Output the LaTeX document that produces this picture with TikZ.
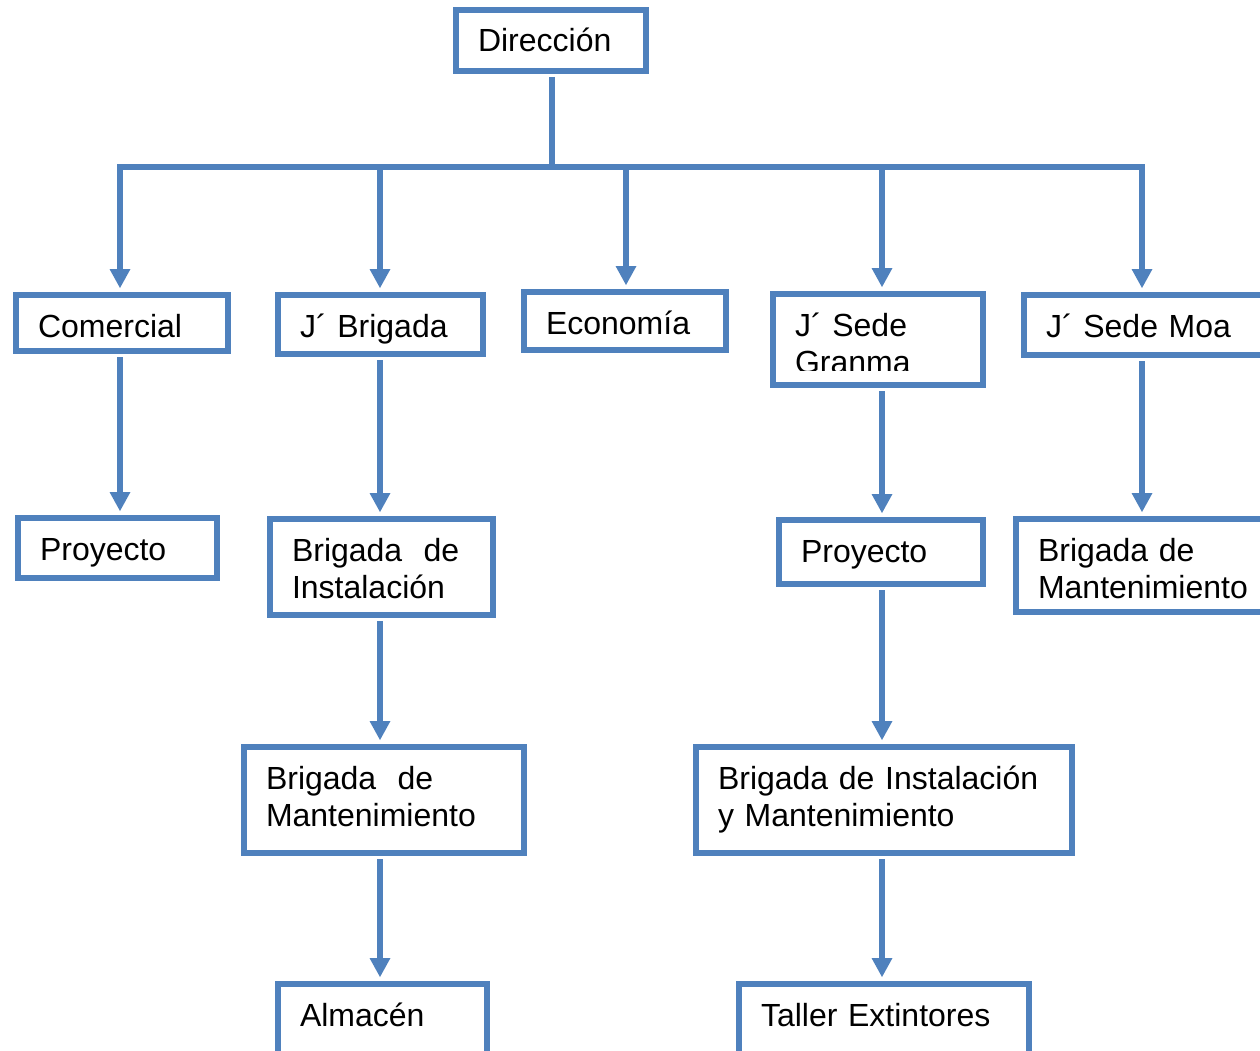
\documentclass[tikz,border=0pt]{standalone}
\usepackage{fontspec}
\setmainfont{Liberation Sans}
\usepackage{tikz}
\usetikzlibrary{arrows.meta,positioning}
\definecolor{orgblue}{RGB}{79,129,189}
\tikzstyle{orgbox} = [draw=orgblue, line width=6pt, fill=white, rectangle,
    inner xsep=22pt, inner ysep=0pt, outer sep=0pt, align=left,
    text height=42pt, font=\fontsize{32}{37}\selectfont]
\tikzstyle{orgline} = [draw=orgblue, line width=6.5pt]
\tikzstyle{orgarrow} = [orgline, shorten >=7pt,
    -{Triangle[width=21pt,length=19pt,line width=0pt]}]
\tikzstyle{orgdown} = [orgarrow, shorten <=6pt]

\begin{document}
\begin{tikzpicture}[x=1pt, y=-1pt]
  \path[use as bounding box] (0,0) rectangle (1260,1051);
  \clip (0,0) rectangle (1260,1051);
  % Place nodes
  \node [orgbox, minimum width=190pt, minimum height=61pt, text width=146pt, text depth=19pt] (dir) at (551,40.5)
  {Dirección};
  \node [orgbox, minimum width=212pt, minimum height=56pt, text width=168pt, text depth=14pt] (comercial) at (122,323)
  {Comercial};
  \node [orgbox, minimum width=205pt, minimum height=59pt, text width=161pt, text depth=17pt] (jbrig) at (380.5,324.5)
  {J´ Brigada};
  \node [orgbox, minimum width=202pt, minimum height=58pt, text width=158pt, text depth=16pt] (econ) at (625,321)
  {Economía};
  \node [orgbox, minimum width=210pt, minimum height=91pt, text width=166pt, text depth=49pt] (granma) at (878,339.5)
  {J´ Sede\\Granma};
  \node [orgbox, minimum width=256pt, minimum height=60pt, text width=212pt, text depth=18pt] (moa) at (1152,325)
  {J´ Sede Moa};
  \node [orgbox, minimum width=199pt, minimum height=60pt, text width=155pt, text depth=18pt] (proyL) at (117.5,548)
  {Proyecto};
  \node [orgbox, minimum width=223pt, minimum height=96pt, text width=179pt, text depth=54pt] (bdi) at (381.5,567)
  {Brigada~ de\\Instalación};
  \node [orgbox, minimum width=204pt, minimum height=64pt, text width=160pt, text depth=22pt] (proyR) at (881,552)
  {Proyecto};
  \node [orgbox, minimum width=264pt, minimum height=93pt, text width=220pt, text depth=51pt] (bdmR) at (1148,565.5)
  {Brigada de\\Mantenimiento};
  \node [orgbox, minimum width=280pt, minimum height=106pt, text width=236pt, text depth=64pt] (bdm) at (384,800)
  {Brigada~ de\\Mantenimiento};
  \node [orgbox, minimum width=376pt, minimum height=106pt, text width=332pt, text depth=64pt] (biym) at (884,800)
  {Brigada de Instalación\\y Mantenimiento};
  \node [orgbox, minimum width=209pt, minimum height=76pt, text width=165pt, text depth=34pt] (almacen) at (382.5,1022)
  {Almacén};
  \node [orgbox, minimum width=290pt, minimum height=76pt, text width=246pt, text depth=34pt] (taller) at (884,1022)
  {Taller Extintores};
  % text of J´ Sede Granma is cut at the bottom
  \fill [white] ([shift={(3pt,3pt)}]granma.south west) rectangle ([shift={(-3pt,14pt)}]granma.south east);

  % Draw edges
  \coordinate (bus) at (552,167);
  \coordinate (b1) at (120,167);
  \coordinate (b2) at (380,167);
  \coordinate (b3) at (626,167);
  \coordinate (b4) at (882,167);
  \coordinate (b5) at (1142,167);
  \draw [orgline, shorten <=6pt] (dir.south -| bus) -- (bus);
  \draw [orgarrow] (bus) -- (b1) -- (b1 |- comercial.north);
  \draw [orgarrow] (bus) -- (b5) -- (b5 |- moa.north);
  \draw [orgarrow] (b2) -- (b2 |- jbrig.north);
  \draw [orgarrow] (b3) -- (b3 |- econ.north);
  \draw [orgarrow] (b4) -- (b4 |- granma.north);
  \draw [orgdown] (b1 |- comercial.south) -- (b1 |- proyL.north);
  \draw [orgdown] (b2 |- jbrig.south) -- (b2 |- bdi.north);
  \draw [orgdown] (b2 |- bdi.south) -- (b2 |- bdm.north);
  \draw [orgdown] (b2 |- bdm.south) -- (b2 |- almacen.north);
  \draw [orgdown] (b4 |- granma.south) -- (b4 |- proyR.north);
  \draw [orgdown] (b4 |- proyR.south) -- (b4 |- biym.north);
  \draw [orgdown] (b4 |- biym.south) -- (b4 |- taller.north);
  \draw [orgdown] (b5 |- moa.south) -- (b5 |- bdmR.north);
\end{tikzpicture}
\end{document}
